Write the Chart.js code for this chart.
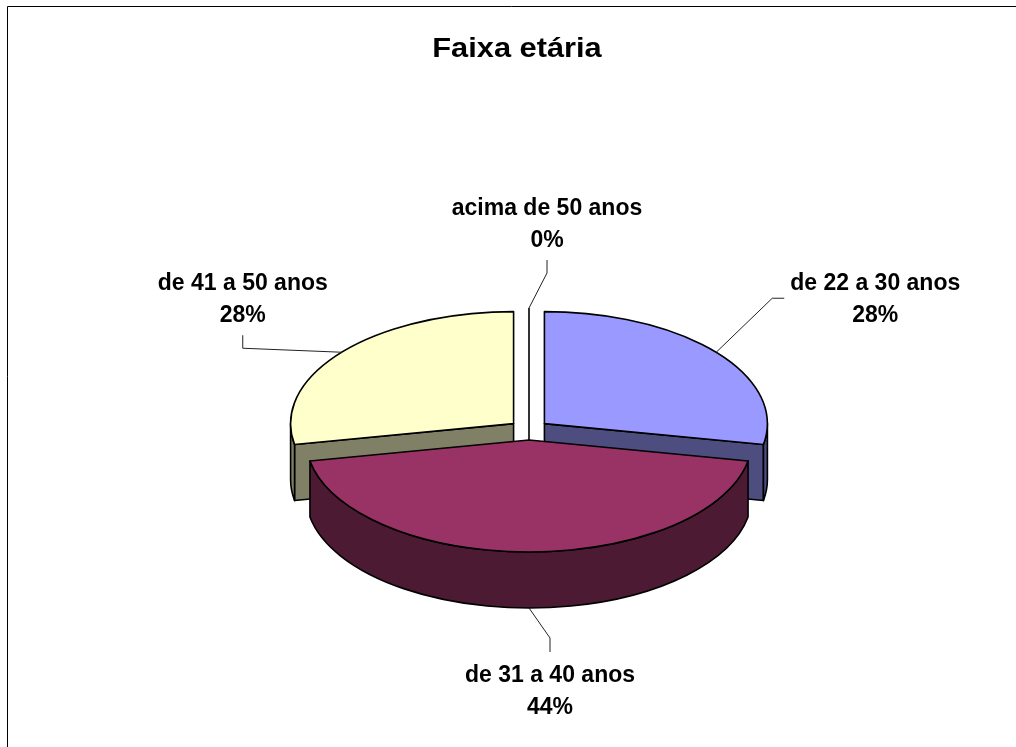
<!DOCTYPE html>
<html lang="pt-br">
<head>
  <meta charset="UTF-8">
  <title>Faixa etária</title>
  <style>
    body {
      margin: 0;
      background: #ffffff;
    }
  </style>
</head>
<body>
  <canvas id="grafico" width="1016" height="747"></canvas>

  <script src="https://cdn.jsdelivr.net/npm/chart.js"></script>
  <script>
    const titulo = "Faixa etária";
    const faixas = ["de 22 a 30 anos", "de 31 a 40 anos", "de 41 a 50 anos", "acima de 50 anos"];
    const percentuais = [28, 44, 28, 0];
    const cores = ["#9999FF", "#993366", "#FFFFCC", "#CCFFFF"];
    const coresLado = ["#4D4D80", "#4C1A33", "#808066", "#668080"];

    // aparência do "3D"
    const K = 0.502;     // achatamento da elipse
    const PROF = 56;     // altura da lateral
    const EXPL = 20;     // afastamento das fatias
    const fonteRotulo = 'bold 23px "Liberation Sans", Arial, sans-serif';

    // linha de chamada de cada rótulo, relativa ao ponto da borda da fatia
    const chamadas = [
      { cotovelo: [56, -54], ponta: [68, -54], texto: [159, -62] },
      { cotovelo: [21, 30], ponta: [21, 44], texto: [21, 74] },
      { cotovelo: [-99, -4], ponta: [-99, -17], texto: [-99, -62] },
      { cotovelo: [18, -35], ponta: [18, -48], texto: [18, -93] }
    ];

    function fatias(chart) {
      return chart.getDatasetMeta(0).data.map((arc, i) => {
        const m = (arc.startAngle + arc.endAngle) / 2;
        return {
          arc, i, m,
          x: arc.x + Math.cos(m) * EXPL,
          y: arc.y + Math.sin(m) * EXPL * K
        };
      });
    }

    const pizza3d = {
      id: "pizza3d",
      beforeDraw(chart) {
        const ctx = chart.ctx;
        ctx.save();
        ctx.strokeStyle = "#000";
        ctx.lineWidth = 1;
        ctx.beginPath();
        ctx.moveTo(7.5, chart.height);
        ctx.lineTo(7.5, 6.5);
        ctx.lineTo(chart.width, 6.5);
        ctx.stroke();
        ctx.restore();
      },
      beforeDatasetsDraw(chart) {
        const ctx = chart.ctx;
        const lista = fatias(chart).sort((a, b) => Math.sin(a.m) - Math.sin(b.m));
        ctx.save();
        ctx.lineWidth = 1.6;
        ctx.strokeStyle = "#000";
        ctx.lineJoin = "round";
        for (const f of lista) {
          const { arc, x, y } = f;
          const R = arc.outerRadius;
          const a0 = arc.startAngle, a1 = arc.endAngle;

          if (a1 - a0 < 1e-6) {
            // fatia de 0%: só uma linha
            ctx.beginPath();
            ctx.moveTo(x + R * Math.cos(a0), y + R * K * Math.sin(a0));
            ctx.lineTo(x, y);
            ctx.lineTo(x, y + PROF);
            ctx.stroke();
            continue;
          }

          ctx.fillStyle = coresLado[f.i];
          const parede = (a) => {
            const px = x + R * Math.cos(a), py = y + R * K * Math.sin(a);
            ctx.beginPath();
            ctx.moveTo(x, y);
            ctx.lineTo(px, py);
            ctx.lineTo(px, py + PROF);
            ctx.lineTo(x, y + PROF);
            ctx.closePath();
            ctx.fill();
            ctx.stroke();
          };
          if (Math.cos(a0) < -1e-6) parede(a0);
          if (Math.cos(a1) > 1e-6) parede(a1);

          const b0 = Math.max(a0, 0), b1 = Math.min(a1, Math.PI);
          if (b1 > b0) {
            ctx.beginPath();
            ctx.ellipse(x, y, R, R * K, 0, b0, b1);
            ctx.lineTo(x + R * Math.cos(b1), y + R * K * Math.sin(b1) + PROF);
            ctx.ellipse(x, y + PROF, R, R * K, 0, b1, b0, true);
            ctx.closePath();
            ctx.fill();
            ctx.stroke();
          }

          // topo desenhado pelo próprio arco do Chart.js, achatado
          ctx.save();
          ctx.translate(x - arc.x, y);
          ctx.scale(1, K);
          ctx.translate(0, -arc.y);
          arc.draw(ctx);
          ctx.restore();

          ctx.beginPath();
          ctx.moveTo(x, y);
          ctx.lineTo(x + R * Math.cos(a0), y + R * K * Math.sin(a0));
          ctx.ellipse(x, y, R, R * K, 0, a0, a1);
          ctx.closePath();
          ctx.stroke();
        }
        ctx.restore();
        return false;
      },
      afterDraw(chart) {
        const ctx = chart.ctx;
        const total = percentuais.reduce((s, v) => s + v, 0);
        ctx.save();

        // título
        ctx.fillStyle = "#000";
        ctx.textAlign = "center";
        ctx.textBaseline = "alphabetic";
        ctx.font = 'bold 28px "Liberation Sans", Arial, sans-serif';
        ctx.save();
        ctx.translate(517, 57);
        ctx.scale(1.1, 1);
        ctx.fillText(titulo, 0, 0);
        ctx.restore();

        ctx.font = fonteRotulo;
        for (const f of fatias(chart)) {
          const R = f.arc.outerRadius;
          const ax = f.x + R * Math.cos(f.m);
          let ay = f.y + R * K * Math.sin(f.m);
          if (Math.sin(f.m) > 0.01) ay += PROF;
          const c = chamadas[f.i];

          ctx.strokeStyle = "#222";
          ctx.lineWidth = 1;
          ctx.beginPath();
          ctx.moveTo(ax, ay);
          ctx.lineTo(ax + c.cotovelo[0], ay + c.cotovelo[1]);
          ctx.lineTo(ax + c.ponta[0], ay + c.ponta[1]);
          ctx.stroke();

          const tx = ax + c.texto[0], ty = ay + c.texto[1];
          ctx.fillText(faixas[f.i], tx, ty);
          ctx.fillText(Math.round(percentuais[f.i] / total * 100) + "%", tx, ty + 32);
        }
        ctx.restore();
      }
    };

    const ctx = document.getElementById("grafico").getContext("2d");

    new Chart(ctx, {
      type: "pie",
      data: {
        labels: faixas,
        datasets: [{
          data: percentuais,
          backgroundColor: cores,
          borderWidth: 0,
          radius: 223
        }]
      },
      options: {
        responsive: false,
        animation: false,
        layout: { padding: { left: 42, right: 0, top: 113, bottom: 0 } },
        plugins: {
          legend: { display: false },
          title: { display: false },
          tooltip: { enabled: false }
        }
      },
      plugins: [pizza3d]
    });
  </script>
</body>
</html>
